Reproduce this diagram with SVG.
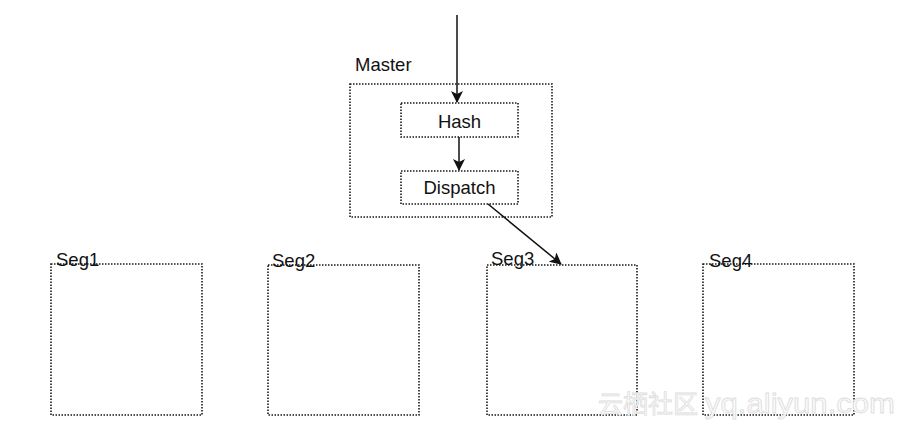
<svg xmlns="http://www.w3.org/2000/svg" width="907" height="430" viewBox="0 0 907 430">
<style>
.box{fill:none;stroke:#1a1a1a;stroke-width:1.6;stroke-dasharray:1.5 1.5}
.lbl{font-family:"Liberation Sans",Arial,sans-serif;font-size:18.5px;fill:#111}
.edge{stroke:#111;stroke-width:1.5;fill:none;marker-end:url(#ah)}
.wm{font-family:"Liberation Sans","Noto Sans CJK SC",sans-serif;fill:#fbfbfb;stroke:#dedede;stroke-width:0.8}
</style>
<defs>
<marker id="ah" viewBox="0 0 12 12" refX="11" refY="6" markerWidth="12" markerHeight="12" markerUnits="userSpaceOnUse" orient="auto">
<path d="M0,0 L12,6 L0,12 L3,6 z" fill="#111"/>
</marker>
</defs>
<rect width="907" height="430" fill="#fff"/>
<g id="master">
<rect class="box" x="350" y="84" width="202" height="133"/>
<text class="lbl" x="355" y="71">Master</text>
</g>
<g id="hash">
<rect class="box" x="401" y="103" width="117" height="34"/>
<text class="lbl" x="459.5" y="127.5" text-anchor="middle">Hash</text>
</g>
<g id="dispatch">
<rect class="box" x="401" y="171" width="117" height="33"/>
<text class="lbl" x="459.5" y="193.5" text-anchor="middle">Dispatch</text>
</g>
<g id="seg1">
<rect class="box" x="51" y="264" width="151" height="151"/>
<text class="lbl" x="56" y="266">Seg1</text>
</g>
<g id="seg2">
<rect class="box" x="268" y="265" width="151" height="150"/>
<text class="lbl" x="272" y="267">Seg2</text>
</g>
<g id="seg3">
<rect class="box" x="487" y="265" width="150" height="150"/>
<text class="lbl" x="491" y="265">Seg3</text>
</g>
<g id="seg4">
<rect class="box" x="703" y="264" width="151" height="151"/>
<text class="lbl" x="709" y="267">Seg4</text>
</g>
<g id="connectors">
<path class="edge" d="M457,15 L457,102"/>
<path class="edge" d="M459,137 L459,170"/>
<path class="edge" d="M488,204 L561,264"/>
</g>
<text class="wm" x="598" y="413" font-size="25">云栖社区</text>
<text class="wm" x="705" y="413" font-size="27" textLength="190" lengthAdjust="spacingAndGlyphs">yq.aliyun.com</text>
</svg>
